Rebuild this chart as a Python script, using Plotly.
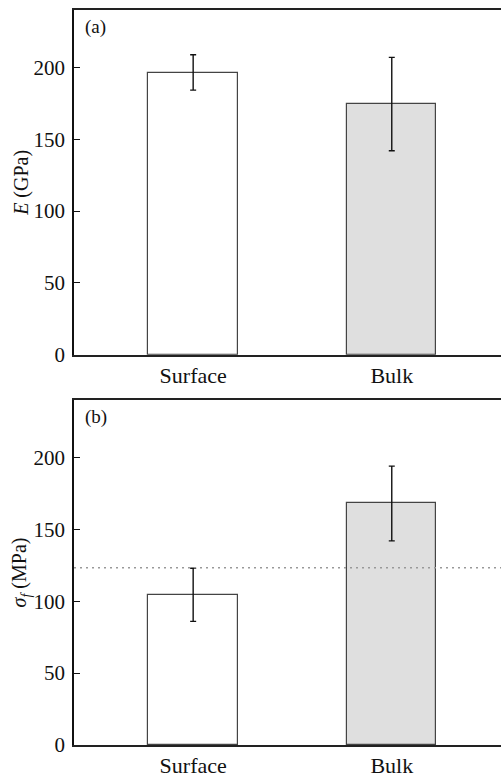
import plotly.graph_objects as go

# Sample categories
categories = ["Surface", "Bulk"]

# (a) Young's modulus E (GPa): mean and standard deviation
modulus_mean = [196.5, 174.5]
modulus_err = [12.3, 32.5]

# (b) Flexural strength sigma_f (MPa): mean and standard deviation
strength_mean = [104.5, 168.0]
strength_err = [18.5, 26.0]

# Reference strength level drawn as a dotted line in (b)
strength_ref = 123.3

bar_fills = ["#ffffff", "#dfdfdf"]
FONT = "Liberation Serif"
W, H = 501, 778


def py(px):
    return 1 - px / H


fig = go.Figure()

for mean, err, xa, ya in [
    (modulus_mean, modulus_err, "x", "y"),
    (strength_mean, strength_err, "x2", "y2"),
]:
    fig.add_trace(go.Bar(
        x=categories, y=mean, width=0.45,
        marker=dict(color=bar_fills, line=dict(color="#444444", width=1.2)),
        error_y=dict(type="data", array=err, visible=True,
                     color="#111111", thickness=1.4, width=3),
        xaxis=xa, yaxis=ya, showlegend=False,
    ))

x_dom = [74 / W, 1.0]
y_dom_a = [py(358), py(10)]
y_dom_b = [py(751.7), py(403.7)]

xaxis_common = dict(
    range=[-0.6, 1.55], showline=True, linecolor="#222222", linewidth=1.5,
    mirror=True, ticks="", showgrid=False, zeroline=False,
    tickfont=dict(family=FONT, size=22, color="#111111"),
)
yaxis_common = dict(
    range=[0, 240], tickvals=[0, 50, 100, 150, 200],
    showline=True, linecolor="#111111", linewidth=1.5,
    ticks="inside", ticklen=6, tickwidth=1.2, tickcolor="#111111",
    showgrid=False, zeroline=False, automargin=False,
    tickfont=dict(family=FONT, size=21, color="#111111"),
    ticklabelstandoff=3,
)

fig.update_layout(
    width=W, height=H,
    margin=dict(l=0, r=0, t=0, b=0),
    paper_bgcolor="white", plot_bgcolor="white",
    font=dict(family=FONT, color="#111111"),
    bargap=0,
    xaxis=dict(domain=x_dom, anchor="y", **xaxis_common),
    yaxis=dict(domain=y_dom_a, anchor="x",
               title=dict(text="<i>E</i> (GPa)", standoff=0,
                          font=dict(family=FONT, size=20)),
               **yaxis_common),
    xaxis2=dict(domain=x_dom, anchor="y2", **xaxis_common),
    yaxis2=dict(domain=y_dom_b, anchor="x2",
                title=dict(text="<i>σ<sub>f</sub></i> (MPa)", standoff=0,
                           font=dict(family=FONT, size=20)),
                **yaxis_common),
)

# Dotted reference line across panel (b)
fig.add_shape(type="line", xref="x2 domain", yref="y2",
              x0=0, x1=1, y0=strength_ref, y1=strength_ref,
              line=dict(color="#999999", width=1.5, dash="2px,4px"))

# Panel labels
fig.add_annotation(text="(a)", xref="x domain", yref="y domain",
                   x=0.021, y=0.95, xanchor="left", yanchor="middle",
                   showarrow=False, font=dict(family=FONT, size=19))
fig.add_annotation(text="(b)", xref="x2 domain", yref="y2 domain",
                   x=0.021, y=0.95, xanchor="left", yanchor="middle",
                   showarrow=False, font=dict(family=FONT, size=19))

fig.write_html("out.html")
